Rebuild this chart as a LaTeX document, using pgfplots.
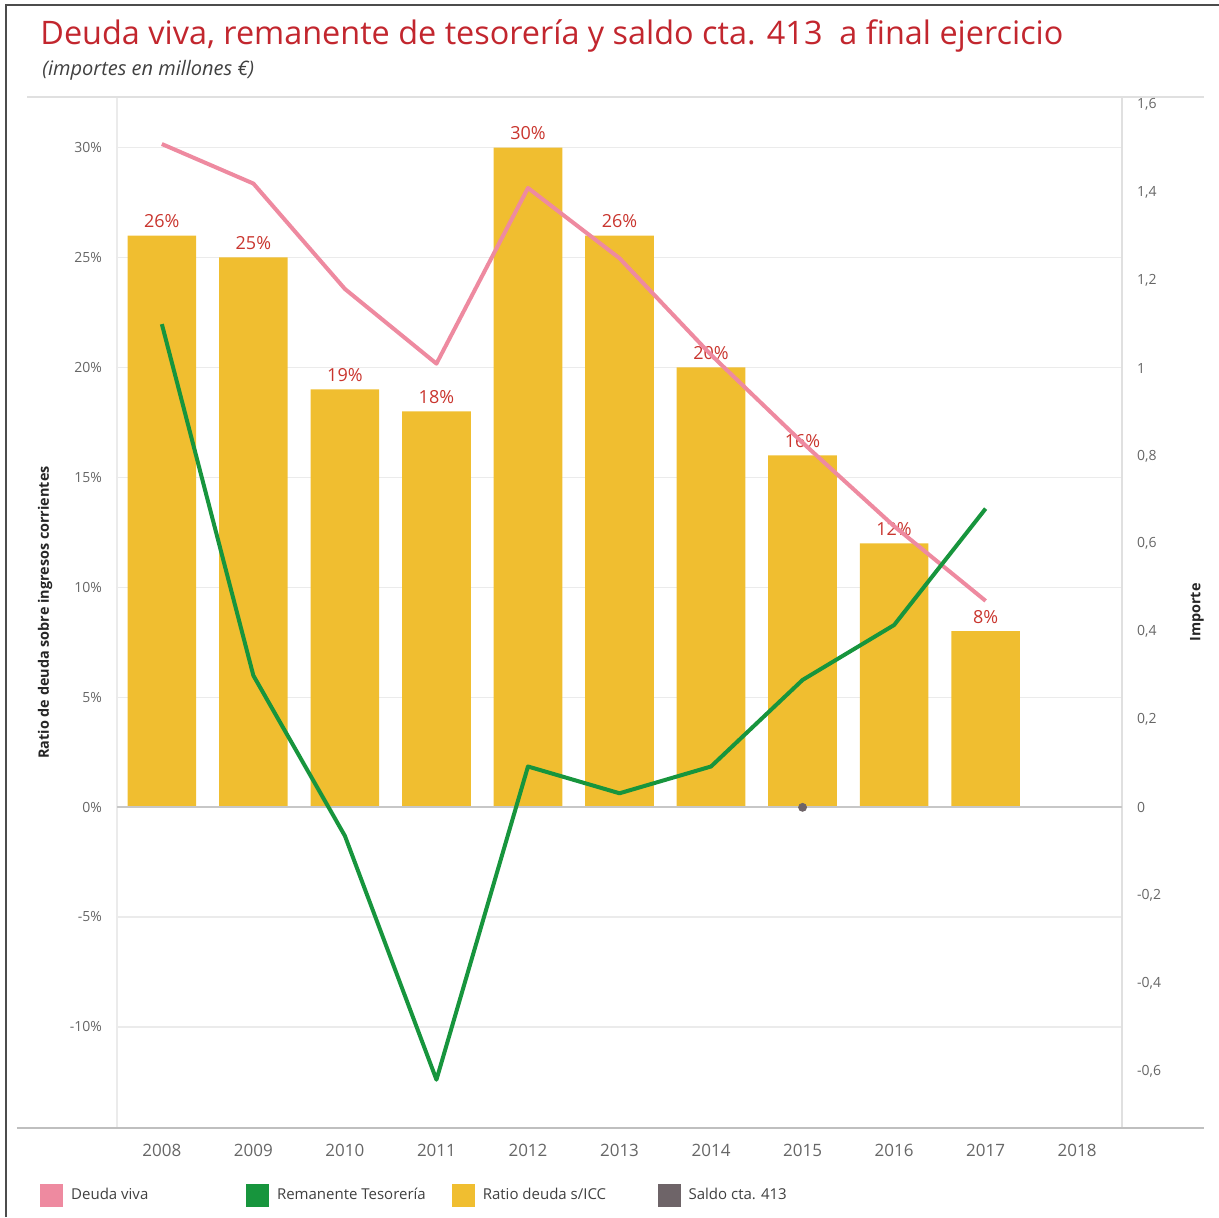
\documentclass[border=0pt]{standalone}
\usepackage{fontspec}
\setmainfont{Open Sans}
\usepackage{pgfplots}
\pgfplotsset{compat=1.18}
\definecolor{titred}{HTML}{C2262E}
\definecolor{labred}{HTML}{C9352E}
\definecolor{barc}{HTML}{F0BE30}
\definecolor{pinkc}{HTML}{EE8AA0}
\definecolor{greenc}{HTML}{17953D}
\definecolor{grayc}{HTML}{6E6468}
\definecolor{tickc}{HTML}{666666}
\pgfplotsset{/pgf/number format/assume math mode=true}
\begin{document}
\begin{tikzpicture}
\path[use as bounding box] (0,0) rectangle (609.5pt,-608.5pt);
\draw[black!70, line width=0.8pt] (3pt,-608.5pt) -- (3pt,-2.5pt) -- (609.5pt,-2.5pt);
\node[anchor=west, inner sep=0pt, font=\fontsize{16.2}{18}\selectfont, text=titred] at (20pt,-18pt) {Deuda viva, remanente de tesorería y saldo cta. 413\ \ a final ejercicio};
\node[anchor=west, inner sep=0pt, font=\fontsize{10}{12}\selectfont\itshape, text=black!75] at (21pt,-35pt) {(importes en millones €)};

\begin{axis}[
  at={(58.5pt,-48.5pt)}, anchor=north west,
  scale only axis, width=502.5pt, height=515.5pt,
  xmin=-0.49, xmax=10.49, ymin=-14.6, ymax=32.3,
  xtick={0,...,10},
  xticklabels={2008,2009,2010,2011,2012,2013,2014,2015,2016,2017,2018},
  ytick={-10,-5,0,5,10,15,20,25,30},
  yticklabels={-10\%,-5\%,0\%,5\%,10\%,15\%,20\%,25\%,30\%},
  axis line style={draw=none},
  major tick length=0pt,
  ymajorgrids, major grid style={black!8, line width=0.6pt},
  x tick label style={font=\fontsize{8.5}{10}\selectfont, text=tickc, yshift=-4.5pt},
  y tick label style={font=\fontsize{7}{8}\selectfont, text=tickc, xshift=-4pt},
  every axis y label/.style={at={(axis description cs:-0.0716,0.5)}, rotate=90, anchor=center, font=\fontsize{7.2}{8}\selectfont\bfseries, text=black!85},
  ylabel={Ratio de deuda sobre ingresos corrientes},
  clip=false,
]
\addplot[ybar, bar width=0.75, fill=barc, draw=none,
  nodes near coords={\pgfmathprintnumber{\pgfplotspointmeta}\%},
  every node near coord/.append style={font=\fontsize{9}{10}\selectfont, text=labred, inner sep=1pt, yshift=2.5pt}]
  coordinates {(0,26) (1,25) (2,19) (3,18) (4,30) (5,26) (6,20) (7,16) (8,12) (9,8)};
\draw[black!8, line width=0.6pt] (rel axis cs:0,0) -- (rel axis cs:0,1);
\draw[black!12, line width=0.6pt] (rel axis cs:1,0) -- (rel axis cs:1,1);
\draw[black!25, line width=0.7pt] ([xshift=-50pt]rel axis cs:0,0) -- ([xshift=41pt]rel axis cs:1,0);
\draw[black!12, line width=0.7pt] ([xshift=-45pt]rel axis cs:0,1) -- ([xshift=41pt]rel axis cs:1,1);
\draw[black!22, line width=0.6pt] (axis cs:-0.49,0) -- (axis cs:10.49,0);
\end{axis}

\begin{axis}[
  at={(58.5pt,-48.5pt)}, anchor=north west,
  scale only axis, width=502.5pt, height=515.5pt,
  xmin=-0.49, xmax=10.49, ymin=-0.73, ymax=1.617,
  axis x line=none, axis y line*=right,
  axis line style={draw=none},
  major tick length=0pt,
  ytick={-0.6,-0.4,-0.2,0,0.2,0.4,0.6,0.8,1,1.2,1.4,1.6},
  y tick label style={/pgf/number format/use comma, /pgf/number format/fixed, /pgf/number format/precision=1, font=\fontsize{7}{8}\selectfont, text=tickc, xshift=4pt},
  every axis y label/.style={at={(axis description cs:1.0746,0.5)}, rotate=90, anchor=center, font=\fontsize{7.2}{8}\selectfont\bfseries, text=black!85},
  ylabel={Importe},
  legend columns=4,
  legend cell align=left,
  legend style={at={(axis description cs:0,0)}, anchor=west, xshift=-38.5pt, yshift=-33.5pt,
    draw=none, fill=none, inner sep=0pt,
    font=\fontsize{7.5}{9}\selectfont, text=black!75,
    nodes={inner sep=0pt, anchor=west}},
  clip=false,
]
\addlegendimage{legend image code/.code={\fill[pinkc] (0pt,-5.5pt) rectangle (11pt,5.5pt); \path (15pt,0pt);}}
\addlegendentry{\makebox[87.5pt][l]{Deuda viva}}
\addlegendimage{legend image code/.code={\fill[greenc] (0pt,-5.5pt) rectangle (11pt,5.5pt); \path (15pt,0pt);}}
\addlegendentry{\makebox[87.5pt][l]{Remanente Tesorería}}
\addlegendimage{legend image code/.code={\fill[barc] (0pt,-5.5pt) rectangle (11pt,5.5pt); \path (15pt,0pt);}}
\addlegendentry{\makebox[87.5pt][l]{Ratio deuda s/ICC}}
\addlegendimage{legend image code/.code={\fill[grayc] (0pt,-5.5pt) rectangle (11pt,5.5pt); \path (15pt,0pt);}}
\addlegendentry{\makebox[87.5pt][l]{Saldo cta. 413}}

\addplot[forget plot, pinkc, line width=2pt, line join=round]
  coordinates {(0,1.51) (1,1.42) (2,1.18) (3,1.01) (4,1.41) (5,1.25) (6,1.03) (7,0.83) (8,0.64) (9,0.47)};
\addplot[forget plot, greenc, line width=2pt, line join=round]
  coordinates {(0,1.10) (1,0.30) (2,-0.065) (3,-0.62) (4,0.093) (5,0.032) (6,0.093) (7,0.29) (8,0.415) (9,0.68)};
\addplot[forget plot, only marks, mark=*, mark size=2pt, color=grayc]
  coordinates {(7,0)};
\end{axis}
\end{tikzpicture}
\end{document}
